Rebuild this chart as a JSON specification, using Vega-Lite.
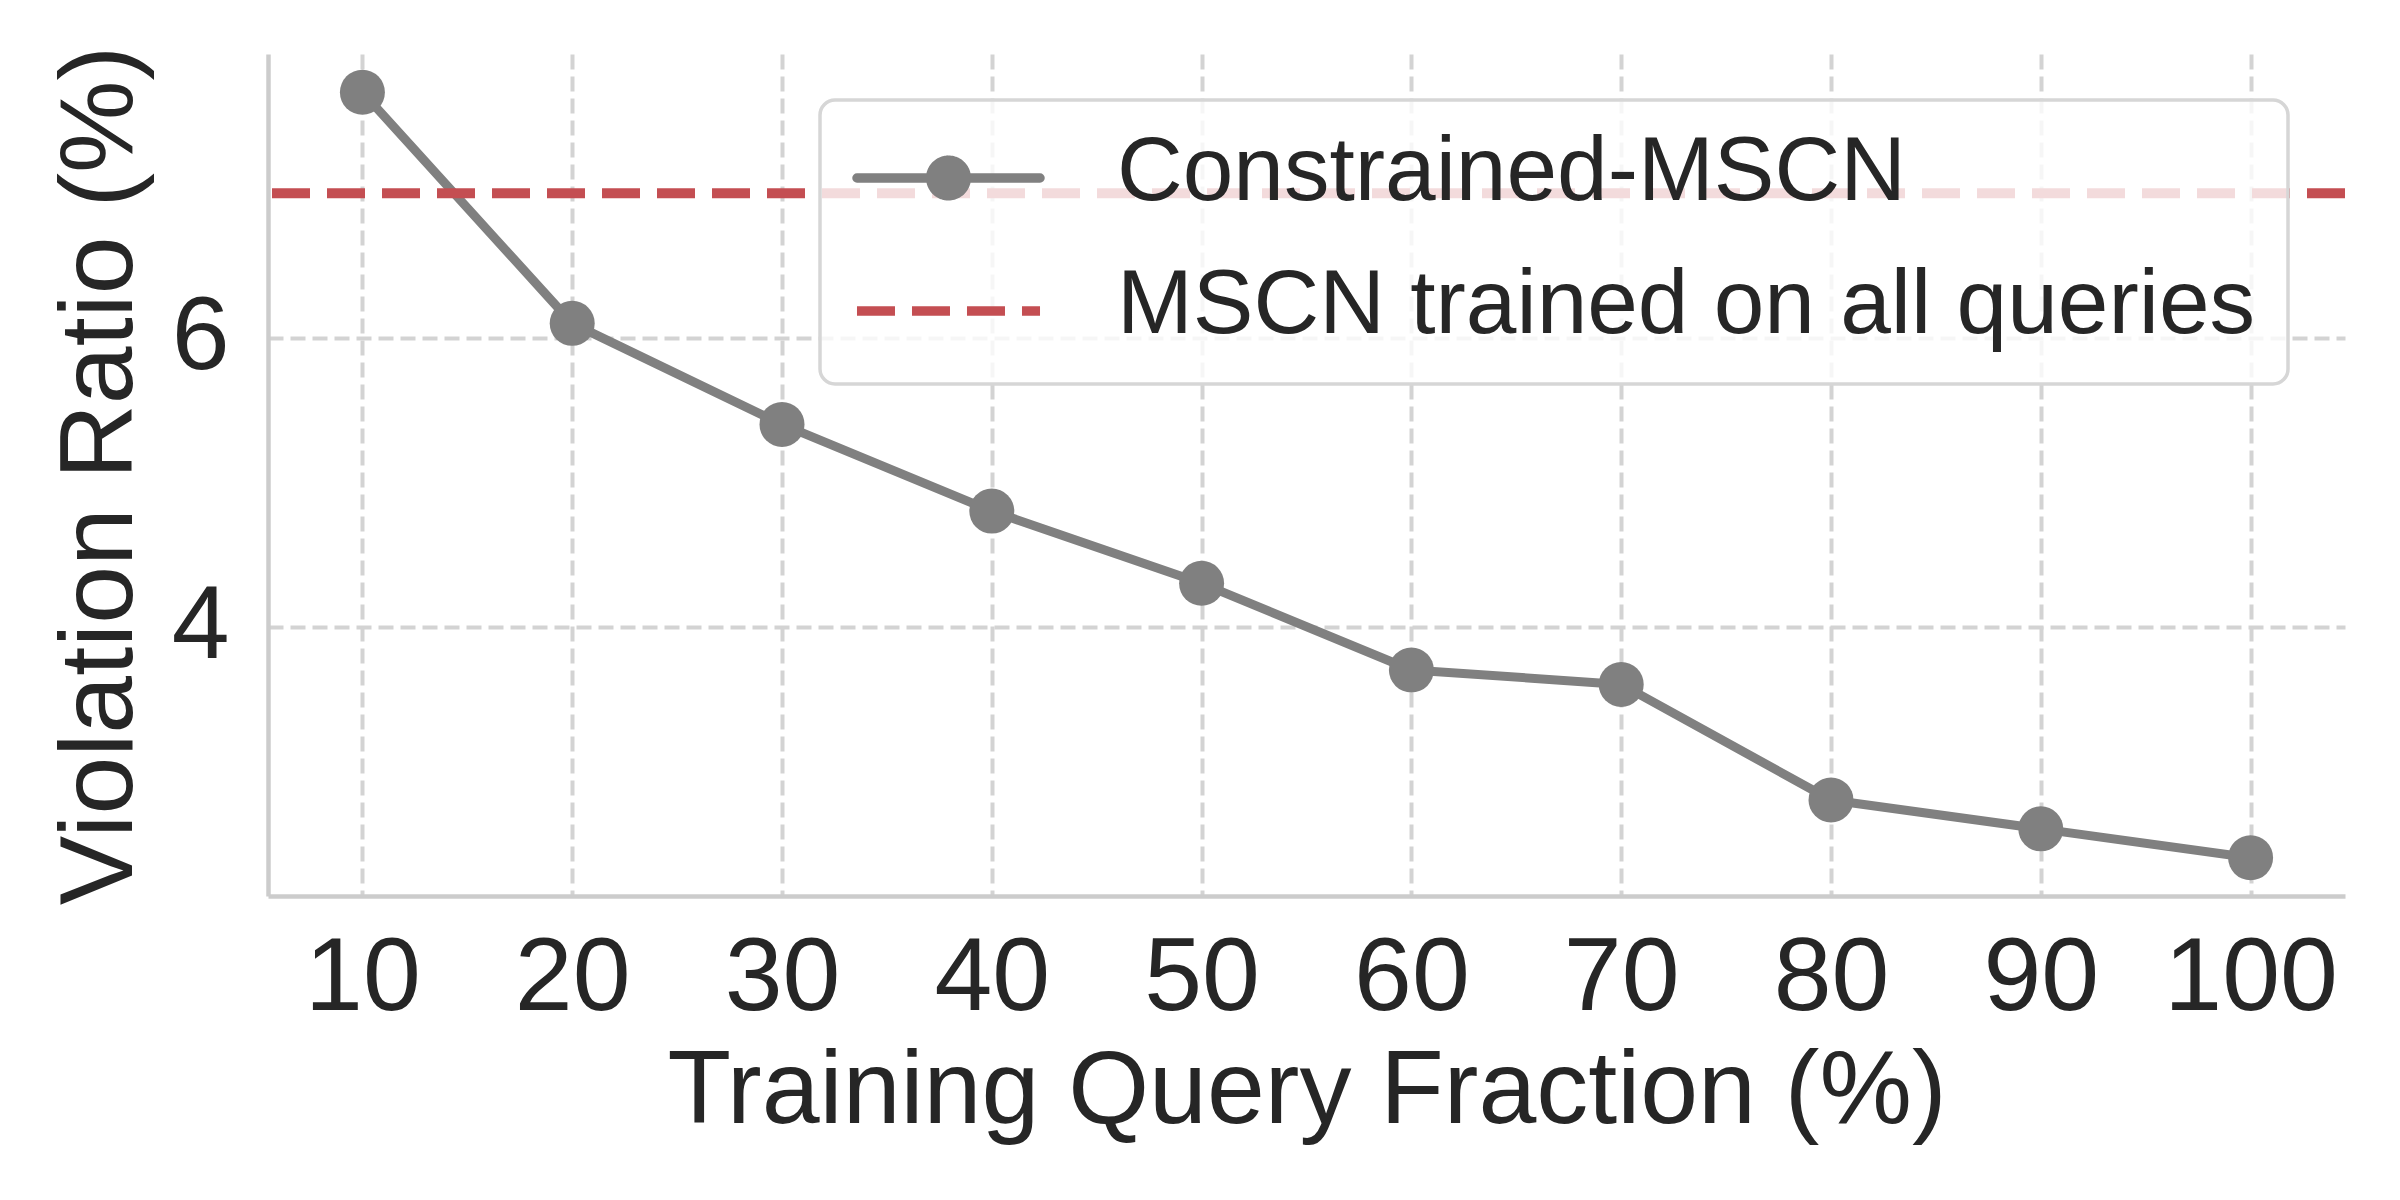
{
  "$schema": "https://vega.github.io/schema/vega-lite/v6.json",
  "width": 2077,
  "height": 842,
  "autosize": {"type": "none"},
  "padding": {"left": 268, "top": 54, "right": 55, "bottom": 304},
  "background": "white",
  "config": {
    "view": {"stroke": null},
    "font": "Liberation Sans",
    "axis": {
      "labelFont": "Liberation Sans",
      "titleFont": "Liberation Sans",
      "labelColor": "#262626",
      "titleColor": "#262626",
      "labelFontSize": 104,
      "titleFontSize": 104,
      "titleFontWeight": "normal",
      "ticks": false,
      "domainColor": "#cccccc",
      "domainWidth": 4.5,
      "gridColor": "#d3d3d3",
      "gridWidth": 4,
      "gridDash": [15, 7],
      "labelFlush": false,
      "labelOverlap": false
    }
  },
  "datasets": {
    "main": [
      {"fraction": 10, "ratio": 7.7, "series": "Constrained-MSCN"},
      {"fraction": 20, "ratio": 6.1, "series": "Constrained-MSCN"},
      {"fraction": 30, "ratio": 5.4, "series": "Constrained-MSCN"},
      {"fraction": 40, "ratio": 4.8, "series": "Constrained-MSCN"},
      {"fraction": 50, "ratio": 4.3, "series": "Constrained-MSCN"},
      {"fraction": 60, "ratio": 3.7, "series": "Constrained-MSCN"},
      {"fraction": 70, "ratio": 3.6, "series": "Constrained-MSCN"},
      {"fraction": 80, "ratio": 2.8, "series": "Constrained-MSCN"},
      {"fraction": 90, "ratio": 2.6, "series": "Constrained-MSCN"},
      {"fraction": 100, "ratio": 2.4, "series": "Constrained-MSCN"}
    ],
    "ref": [
      {"ratio": 7.0, "series": "MSCN trained on all queries"}
    ]
  },
  "layer": [
    {
      "data": {"name": "main"},
      "mark": {"type": "line", "strokeWidth": 9, "strokeJoin": "round", "strokeCap": "round"},
      "encoding": {
        "x": {
          "field": "fraction", "type": "quantitative",
          "scale": {"domain": [5.5, 104.5], "nice": false, "zero": false},
          "axis": {
            "title": "Training Query Fraction (%)",
            "values": [10, 20, 30, 40, 50, 60, 70, 80, 90, 100],
            "format": "d",
            "labelPadding": 31,
            "titlePadding": 10,
            "grid": true
          }
        },
        "y": {
          "field": "ratio", "type": "quantitative",
          "scale": {"domain": [2.135, 7.965], "nice": false, "zero": false},
          "axis": {
            "title": "Violation Ratio (%)",
            "values": [4, 6],
            "format": "d",
            "labelPadding": 39,
            "titlePadding": 18,
            "grid": true
          }
        },
        "color": {
          "field": "series", "type": "nominal",
          "scale": {"domain": ["Constrained-MSCN", "MSCN trained on all queries"], "range": ["#808080", "#c44e52"]},
          "legend": {
            "orient": "none",
            "legendX": 552,
            "legendY": 46,
            "title": null,
            "padding": 32.5,
            "fillColor": "rgba(255,255,255,0.8)",
            "strokeColor": "#d6d6d6",
            "cornerRadius": 15,
            "labelFont": "Liberation Sans",
            "labelFontSize": 91,
            "labelColor": "#262626",
            "labelLimit": 3000,
            "labelOffset": 123,
            "labelBaseline": "middle",
            "symbolOffset": 50.5,
            "symbolSize": 2025,
            "symbolStrokeWidth": 9.5,
            "rowPadding": 41,
            "encode": {
              "legend": {"update": {"strokeWidth": {"value": 3.5}}},
              "labels": {"update": {"dy": {"value": -5}}},
              "symbols": {
                "update": {
                  "shape": {"signal": "datum.value === 'Constrained-MSCN' ? 'M-4.067,0H4.067M-0.789,0A0.789,0.789,0,1,0,0.789,0A0.789,0.789,0,1,0,-0.789,0Z' : 'M-4.067,0H4.067'"},
                  "strokeDash": {"signal": "datum.value === 'Constrained-MSCN' ? [1,0] : [38,17]"},
                  "strokeCap": {"signal": "datum.value === 'Constrained-MSCN' ? 'round' : 'butt'"},
                  "fill": {"scale": "color", "field": "value"},
                  "stroke": {"scale": "color", "field": "value"},
                  "opacity": {"value": 1}
                }
              }
            }
          }
        }
      }
    },
    {
      "data": {"name": "main"},
      "mark": {"type": "point", "filled": true, "size": 2025, "opacity": 1},
      "encoding": {
        "x": {"field": "fraction", "type": "quantitative"},
        "y": {"field": "ratio", "type": "quantitative"},
        "color": {"field": "series", "type": "nominal"}
      }
    },
    {
      "data": {"name": "ref"},
      "mark": {"type": "rule", "strokeWidth": 10, "strokeDash": [38, 17]},
      "encoding": {
        "y": {"field": "ratio", "type": "quantitative"},
        "color": {"field": "series", "type": "nominal"}
      }
    }
  ]
}
